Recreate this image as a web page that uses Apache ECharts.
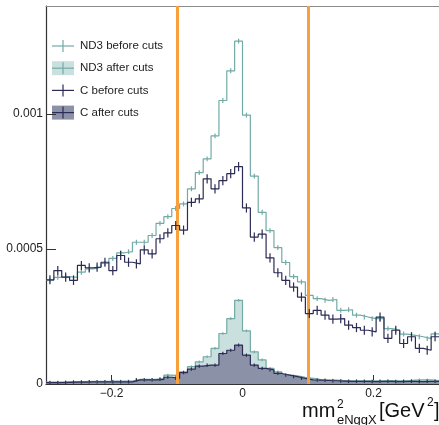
<!DOCTYPE html>
<html>
<head>
<meta charset="utf-8">
<script src="https://cdn.jsdelivr.net/npm/echarts@6/dist/echarts.min.js"></script>
<style>
  html, body { margin: 0; padding: 0; background: #fff; }
  #chart { width: 439px; height: 425px; }
</style>
</head>
<body>
<div id="chart"></div>
<script>
// histogram binning (50 bins over -0.3..0.3)
const X_MIN = -0.3;
const BIN_W = 0.012;
const Y_UNIT = 1e-4;

// bin contents, in units of 1e-4
const nd3Before = [3.85, 3.95, 3.98, 3.95, 4.14, 4.26, 4.33, 4.47, 4.65, 4.86,
  4.9, 5.25, 5.25, 5.5, 5.95, 6.2, 6.5, 6.67, 7.23, 7.83,
  8.34, 9.19, 10.5, 11.6, 12.7, 9.96, 7.7, 6.36, 5.68, 5.05,
  4.5, 3.98, 3.78, 3.28, 3.16, 3.1, 3.13, 2.73, 2.75, 2.55,
  2.48, 2.42, 2.42, 2.05, 2.0, 1.85, 1.8, 1.75, 1.68, 1.86];
const cBefore = [3.86, 4.2, 3.96, 3.84, 4.39, 4.3, 4.33, 4.51, 4.2, 4.76,
  4.51, 4.45, 4.97, 4.82, 5.38, 5.6, 5.87, 5.7, 6.73, 6.86,
  7.6, 7.23, 7.53, 7.79, 8.05, 6.52, 5.44, 5.55, 4.67, 4.12,
  3.84, 3.59, 3.22, 2.61, 2.73, 2.55, 2.4, 2.42, 2.18, 2.09,
  1.99, 1.93, 2.48, 1.69, 1.99, 1.5, 1.75, 1.32, 1.25, 1.75];
const nd3After = [0.07, 0.07, 0.08, 0.09, 0.09, 0.1, 0.1, 0.1, 0.11, 0.11,
  0.11, 0.17, 0.17, 0.17, 0.21, 0.33, 0.3, 0.45, 0.64, 0.82,
  1.01, 1.32, 1.87, 2.42, 3.1, 1.97, 1.19, 0.89, 0.58, 0.45,
  0.33, 0.3, 0.25, 0.21, 0.16, 0.15, 0.14, 0.13, 0.12, 0.12,
  0.12, 0.12, 0.12, 0.13, 0.12, 0.12, 0.14, 0.15, 0.15, 0.13];
const cAfter = [0.05, 0.05, 0.06, 0.07, 0.07, 0.08, 0.08, 0.08, 0.08, 0.08,
  0.08, 0.15, 0.15, 0.15, 0.17, 0.25, 0.21, 0.42, 0.55, 0.66,
  0.7, 0.7, 1.13, 1.25, 1.44, 1.07, 0.7, 0.58, 0.52, 0.39,
  0.33, 0.27, 0.21, 0.15, 0.14, 0.13, 0.12, 0.11, 0.1, 0.1,
  0.1, 0.09, 0.1, 0.1, 0.09, 0.1, 0.1, 0.09, 0.1, 0.1];

// error bar half-heights (1e-4)
const errND3Before = 0.09;
const errCBefore = 0.17;
const errND3After = 0.05;
const errCAfter = 0.06;

const cutValues = [-0.1, 0.1];
const xTickValues = [-0.2, 0, 0.2];
const yTickValues = [0, 0.0005, 0.001];
const legendNames = ['ND3 before cuts', 'ND3 after cuts', 'C before cuts', 'C after cuts'];

const TEAL = '#72aaa6';
const TEAL_FILL = '#c9e0de';
const NAVY = '#2b2b55';
const NAVY_FILL = '#8b91a6';
const ORANGE = '#f7a03c';
const FONT = 'Liberation Sans, Arial, Helvetica, sans-serif';

function stepData(vals) {
  const pts = vals.map((v, i) => [X_MIN + i * BIN_W, v * Y_UNIT]);
  pts.push([X_MIN + vals.length * BIN_W, vals[vals.length - 1] * Y_UNIT]);
  return pts;
}

function errData(vals, err) {
  return vals.map((v, i) => [X_MIN + (i + 0.5) * BIN_W, v * Y_UNIT, err * Y_UNIT]);
}

function histSeries(name, vals, color, fill, z) {
  const s = {
    name: name,
    type: 'line',
    step: 'end',
    data: stepData(vals),
    symbol: 'none',
    lineStyle: { color: color, width: 1.2 },
    z: z,
    silent: true
  };
  if (fill) s.areaStyle = { color: fill, opacity: 1 };
  return s;
}

function errSeries(vals, err, color, z) {
  return {
    type: 'custom',
    data: errData(vals, err),
    encode: { x: 0, y: 1 },
    z: z,
    silent: true,
    renderItem: function (params, api) {
      const x = api.value(0), y = api.value(1), e = api.value(2);
      const p1 = api.coord([x, y - e]);
      const p2 = api.coord([x, y + e]);
      return {
        type: 'line',
        shape: { x1: p1[0], y1: p1[1], x2: p2[0], y2: p2[1] },
        style: { stroke: color, lineWidth: 1.2 }
      };
    }
  };
}

// legend drawn as graphics (ROOT-style markers)
function legendRow(i, label, color, fill) {
  const cy = 46 + i * 22.2;
  const items = [];
  if (fill) {
    items.push({ type: 'rect', shape: { x: 52, y: cy - 7, width: 22, height: 14 },
      style: { fill: fill } });
  }
  items.push({ type: 'line', shape: { x1: 52, y1: cy, x2: 74, y2: cy },
    style: { stroke: color, lineWidth: 1.2 } });
  items.push({ type: 'line', shape: { x1: 63, y1: cy - 6, x2: 63, y2: cy + 6 },
    style: { stroke: color, lineWidth: 1.2 } });
  items.push({ type: 'text', style: { x: 80, y: cy, text: label, fill: '#222',
    font: '11.5px ' + FONT, verticalAlign: 'middle' } });
  return items;
}

const chart = echarts.init(document.getElementById('chart'));

const option = {
  animation: false,
  backgroundColor: '#fff',
  grid: { left: 46, top: 6, width: 394, bottom: 41 },
  xAxis: [{
    type: 'value',
    min: X_MIN,
    max: 0.3,
    axisLine: { show: true, onZero: false, lineStyle: { color: '#333', width: 1.2 } },
    axisTick: { show: true, inside: true, length: 9, customValues: xTickValues,
      lineStyle: { color: '#333' } },
    axisLabel: { customValues: xTickValues, color: '#222', fontSize: 12, fontFamily: FONT,
      margin: 4, formatter: v => (v < 0 ? '\u2212' + Math.abs(v) : String(v)) },
    splitLine: { show: false }
  }, {
    // top frame line only
    type: 'value',
    position: 'top',
    min: X_MIN,
    max: 0.3,
    axisLine: { show: true, onZero: false, lineStyle: { color: '#8a8a8a', width: 1 } },
    axisTick: { show: false },
    axisLabel: { show: false },
    splitLine: { show: false }
  }],
  yAxis: {
    type: 'value',
    min: 0,
    max: 0.0014,
    axisLine: { show: true, onZero: false, lineStyle: { color: '#333', width: 1.2 } },
    axisTick: { show: true, inside: true, length: 10, customValues: yTickValues,
      lineStyle: { color: '#333' } },
    axisLabel: { customValues: yTickValues, color: '#222', fontSize: 12, fontFamily: FONT,
      margin: 3, formatter: v => (v === 0 ? '0' : String(+v.toFixed(4))) },
    splitLine: { show: false }
  },
  series: [
    histSeries(legendNames[1], nd3After, TEAL, TEAL_FILL, 1),
    histSeries(legendNames[3], cAfter, NAVY, NAVY_FILL, 2),
    errSeries(nd3After, errND3After, TEAL, 3),
    errSeries(cAfter, errCAfter, NAVY, 3),
    histSeries(legendNames[0], nd3Before, TEAL, null, 4),
    errSeries(nd3Before, errND3Before, TEAL, 4),
    Object.assign(histSeries(legendNames[2], cBefore, NAVY, null, 5), {
      markLine: {
        silent: true,
        symbol: 'none',
        label: { show: false },
        lineStyle: { color: ORANGE, width: 3, type: 'solid' },
        data: cutValues.map(v => ({ xAxis: v }))
      }
    }),
    errSeries(cBefore, errCBefore, NAVY, 5)
  ],
  graphic: [].concat(
    legendRow(0, legendNames[0], TEAL, null),
    legendRow(1, legendNames[1], TEAL, TEAL_FILL),
    legendRow(2, legendNames[2], NAVY, null),
    legendRow(3, legendNames[3], NAVY, NAVY_FILL),
    [
      { type: 'text', style: { x: 302, y: 411, text: 'mm', fill: '#111',
        font: '20px ' + FONT, verticalAlign: 'middle' } },
      { type: 'text', style: { x: 337, y: 405, text: '2', fill: '#111',
        font: '12px ' + FONT, verticalAlign: 'middle' } },
      { type: 'text', style: { x: 337, y: 420, text: 'eNggX', fill: '#111',
        font: '13px ' + FONT, verticalAlign: 'middle' } },
      { type: 'text', style: { x: 379, y: 411, text: '[GeV', fill: '#111',
        font: '20px ' + FONT, verticalAlign: 'middle' } },
      { type: 'text', style: { x: 427, y: 403, text: '2', fill: '#111',
        font: '12px ' + FONT, verticalAlign: 'middle' } },
      { type: 'text', style: { x: 434, y: 411, text: ']', fill: '#111',
        font: '20px ' + FONT, verticalAlign: 'middle' } }
    ]
  )
};

chart.setOption(option);
window.addEventListener('resize', () => chart.resize());
</script>
</body>
</html>
